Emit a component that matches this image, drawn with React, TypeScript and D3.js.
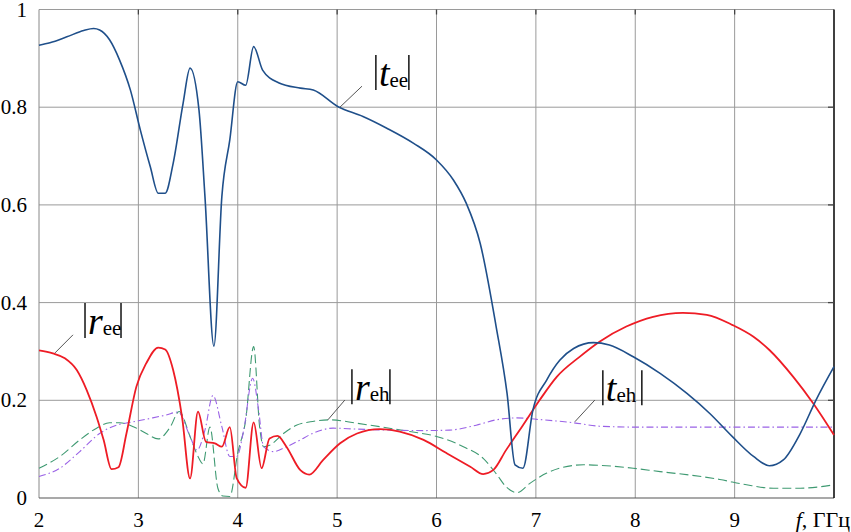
import React, { useEffect } from "react";
import * as d3 from "d3";

// frequency (GHz) and magnitude samples
const tEeF = [2.00,2.11,2.28,2.45,2.55,2.61,2.71,2.81,2.92,3.02,3.12,3.20,3.27,3.35,3.45,3.52,3.61,3.67,3.76,3.84,3.92,4.00,4.08,4.16,4.25,4.41,4.63,4.76,5.01,5.26,5.50,5.77,6.00,6.17,6.30,6.44,6.60,6.71,6.79,6.87,6.97,7.11,7.24,7.38,7.58,7.74,7.98,8.25,8.52,8.75,8.98,9.19,9.35,9.49,9.66,9.82,10.0];
const tEeV = [0.927,0.932,0.944,0.957,0.961,0.958,0.938,0.897,0.835,0.753,0.678,0.624,0.624,0.685,0.808,0.880,0.794,0.617,0.311,0.617,0.733,0.852,0.845,0.924,0.876,0.850,0.839,0.835,0.801,0.781,0.757,0.726,0.692,0.651,0.603,0.521,0.351,0.214,0.068,0.061,0.180,0.242,0.282,0.306,0.318,0.313,0.289,0.255,0.214,0.173,0.125,0.085,0.066,0.078,0.132,0.201,0.269];

const rEeF = [2.00,2.14,2.26,2.38,2.48,2.58,2.65,2.73,2.80,2.88,2.98,3.08,3.20,3.27,3.35,3.44,3.52,3.60,3.68,3.77,3.84,3.92,3.99,4.08,4.16,4.24,4.32,4.40,4.49,4.63,4.72,4.86,5.03,5.20,5.43,5.63,5.87,6.10,6.34,6.47,6.57,6.70,6.87,7.04,7.21,7.44,7.64,7.91,8.18,8.48,8.72,8.98,9.19,9.35,9.59,9.79,10.0];
const rEeV = [0.302,0.296,0.286,0.262,0.221,0.166,0.119,0.059,0.063,0.132,0.228,0.276,0.308,0.304,0.262,0.165,0.040,0.177,0.115,0.112,0.105,0.145,0.040,0.021,0.155,0.061,0.122,0.127,0.105,0.057,0.048,0.078,0.112,0.132,0.141,0.136,0.119,0.092,0.064,0.049,0.057,0.098,0.149,0.201,0.248,0.289,0.320,0.351,0.371,0.379,0.375,0.354,0.330,0.303,0.248,0.194,0.129];

const rEhF = [2.00,2.21,2.41,2.58,2.71,2.81,2.95,3.08,3.20,3.32,3.41,3.52,3.60,3.65,3.72,3.80,3.85,3.92,4.00,4.08,4.16,4.22,4.26,4.32,4.46,4.59,4.73,4.93,5.20,5.46,5.73,6.00,6.27,6.47,6.60,6.70,6.81,6.94,7.11,7.24,7.48,7.71,7.98,8.25,8.55,8.85,9.12,9.39,9.66,9.86,10.0];
const rEhV = [0.061,0.085,0.119,0.143,0.154,0.154,0.146,0.132,0.121,0.145,0.177,0.126,0.085,0.070,0.145,0.020,0.004,0.003,0.092,0.160,0.310,0.146,0.105,0.108,0.132,0.149,0.156,0.160,0.153,0.145,0.136,0.126,0.105,0.081,0.050,0.023,0.011,0.030,0.051,0.061,0.068,0.066,0.061,0.054,0.047,0.038,0.027,0.020,0.020,0.023,0.027];

const tEhF = [2.00,2.21,2.41,2.61,2.78,2.95,3.12,3.28,3.40,3.52,3.59,3.67,3.75,3.84,3.92,3.99,4.06,4.15,4.21,4.26,4.36,4.49,4.63,4.73,4.96,5.20,5.53,5.87,6.13,6.40,6.60,6.81,7.01,7.38,7.64,8.05,8.72,9.39,10.0];
const tEhV = [0.044,0.061,0.095,0.132,0.149,0.156,0.163,0.170,0.176,0.126,0.098,0.139,0.210,0.146,0.085,0.085,0.139,0.245,0.180,0.105,0.095,0.105,0.119,0.130,0.143,0.141,0.139,0.138,0.139,0.149,0.160,0.164,0.161,0.154,0.147,0.145,0.145,0.145,0.145];

const xTicks = [2, 3, 4, 5, 6, 7, 8, 9];
const yTicks = [0, 0.2, 0.4, 0.6, 0.8, 1];
const yTickLabels = ["0", "0.2", "0.4", "0.6", "0.8", "1"];

const W = 851, H = 532;
const M = { left: 39, right: 834, top: 9.5, bottom: 498 };
const FONT = "'Liberation Serif', 'Times New Roman', serif";

const series = [
  { f: rEhF, v: rEhV, color: "#3f9a72", width: 1.1, dash: "9,4" },
  { f: tEhF, v: tEhV, color: "#9a62e6", width: 1.1, dash: "7,3,1.5,3" },
  { f: rEeF, v: rEeV, color: "#ee1c25", width: 1.8, dash: null },
  { f: tEeF, v: tEeV, color: "#1f4f8a", width: 1.6, dash: null },
];

// annotation labels: main letter, subscript, bar anchor (data units), leader endpoints (data units)
const labels = [
  { main: "t", sub: "ee", bx: 5.39, bb: 0.835, w: 33, l1: [5.028, 0.800], l2: [5.25, 0.843] },
  { main: "r", sub: "ee", bx: 2.463, bb: 0.3275, w: 36, l1: [2.161, 0.297], l2: [2.342, 0.334] },
  { main: "r", sub: "eh", bx: 5.149, bb: 0.192, w: 38, l1: [4.907, 0.160], l2: [5.078, 0.2006] },
  { main: "t", sub: "eh", bx: 7.674, bb: 0.190, w: 39, l1: [7.392, 0.156], l2: [7.594, 0.2006] },
];

export default function App() {
  useEffect(() => {
    document.body.style.margin = "0";
  }, []);
  const x = d3.scaleLinear().domain([2, 10]).range([M.left, M.right]);
  const y = d3.scaleLinear().domain([0, 1]).range([M.bottom, M.top]);
  const line = d3
    .line<[number, number]>()
    .x((d) => x(d[0]))
    .y((d) => y(d[1]))
    .curve(d3.curveMonotoneX);

  return (
    <svg width={W} height={H} style={{ position: "absolute", left: 0, top: 0, background: "#fff" }}>
      {/* grid */}
      {xTicks.slice(1).map((t) => (
        <line key={"gx" + t} x1={x(t)} x2={x(t)} y1={y(1)} y2={y(0)} stroke="#9a9a9a" strokeWidth={1} />
      ))}
      {yTicks.slice(1).map((t) => (
        <line key={"gy" + t} x1={x(2)} x2={x(10)} y1={y(t)} y2={y(t)} stroke="#9a9a9a" strokeWidth={1} />
      ))}
      <line x1={x(2)} x2={x(2)} y1={y(1)} y2={y(0)} stroke="#888" strokeWidth={1} />
      <line x1={x(2)} x2={x(10)} y1={y(0)} y2={y(0)} stroke="#555" strokeWidth={1.2} />
      <line x1={x(10)} x2={x(10)} y1={y(1)} y2={y(0)} stroke="#000" strokeWidth={1.5} />
      {yTicks.slice(1, -1).map((t) => (
        <line key={"rt" + t} x1={x(10) - 6} x2={x(10)} y1={y(t)} y2={y(t)} stroke="#444" strokeWidth={1.3} />
      ))}
      {xTicks.slice(1).map((t) => (
        <line key={"tt" + t} x1={x(t)} x2={x(t)} y1={y(1)} y2={y(1) + 5} stroke="#444" strokeWidth={1.3} />
      ))}

      {/* series */}
      {series.map((s, i) => (
        <path
          key={i}
          d={line(s.f.map((f, j) => [f, s.v[j]] as [number, number])) || ""}
          fill="none"
          stroke={s.color}
          strokeWidth={s.width}
          strokeDasharray={s.dash || undefined}
          strokeLinejoin="round"
        />
      ))}

      {/* tick labels */}
      {yTicks.map((t, i) => (
        <text key={"yl" + t} x={27} y={y(t) + 7} textAnchor="end" fontFamily={FONT} fontSize={21} fill="#000">
          {yTickLabels[i]}
        </text>
      ))}
      {xTicks.map((t) => (
        <text key={"xl" + t} x={x(t)} y={527} textAnchor="middle" fontFamily={FONT} fontSize={21} fill="#000">
          {t}
        </text>
      ))}
      <text x={850} y={527} textAnchor="end" fontFamily={FONT} fontSize={22} fill="#000">
        <tspan fontStyle="italic">f</tspan>
        <tspan>, ГГц</tspan>
      </text>

      {/* annotations */}
      {labels.map((l, i) => {
        const bx = x(l.bx);
        const bb = y(l.bb);
        return (
          <g key={"lab" + i}>
            <line x1={x(l.l1[0])} y1={y(l.l1[1])} x2={x(l.l2[0])} y2={y(l.l2[1])} stroke="#555" strokeWidth={1} />
            <line x1={bx} x2={bx} y1={bb - 35} y2={bb} stroke="#000" strokeWidth={1.4} />
            <line x1={bx + l.w} x2={bx + l.w} y1={bb - 35} y2={bb} stroke="#000" strokeWidth={1.4} />
            <text x={bx + 3} y={bb - 4} fontFamily={FONT} fill="#000">
              <tspan fontStyle="italic" fontSize={38}>{l.main}</tspan>
              <tspan fontSize={21} dy={1}>{l.sub}</tspan>
            </text>
          </g>
        );
      })}
    </svg>
  );
}
